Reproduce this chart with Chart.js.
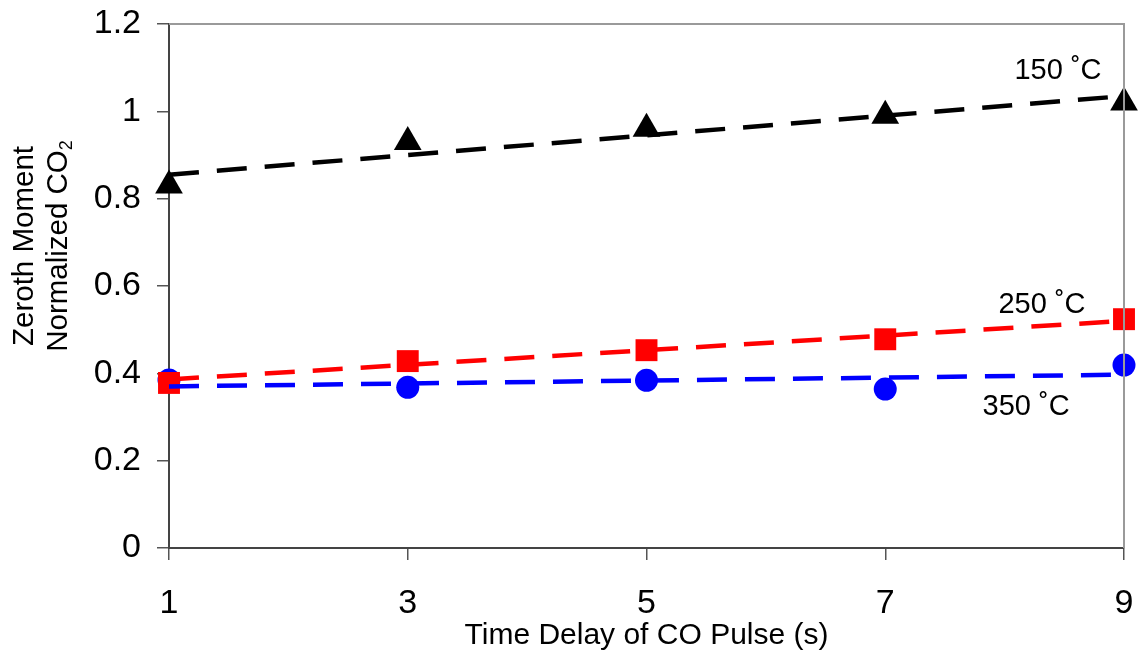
<!DOCTYPE html>
<html>
<head>
<meta charset="utf-8">
<script src="https://cdn.jsdelivr.net/npm/chart.js@4/dist/chart.umd.min.js"></script>
<style>
html,body{margin:0;padding:0;background:#fff;}
#wrap{width:1144px;height:655px;position:relative;}
</style>
</head>
<body>
<div id="wrap"><canvas id="c"></canvas></div>
<script>
// ---- data ----
const timeDelay = [1, 3, 5, 7, 9];
const co2_150 = [0.83, 0.93, 0.96, 0.99, 1.02];
const co2_250 = [0.378, 0.428, 0.453, 0.478, 0.524];
const co2_350 = [0.385, 0.368, 0.384, 0.364, 0.419];
const trendX = [1, 9];
const trend_150 = [0.855, 1.035];
const trend_250 = [0.386, 0.52];
const trend_350 = [0.37, 0.397];
const xTickValues = [1, 3, 5, 7, 9];
const yTickValues = [0, 0.2, 0.4, 0.6, 0.8, 1, 1.2];
const seriesLabels = ['150 \u02DAC', '250 \u02DAC', '350 \u02DAC'];

const FONT = '"Liberation Sans", Arial, Helvetica, sans-serif';

function pts(xs, ys) { return xs.map((x, i) => ({x: x, y: ys[i]})); }

const annotations = [
  {text: seriesLabels[0], x: 8.447, y: 1.092},
  {text: seriesLabels[1], x: 8.313, y: 0.556},
  {text: seriesLabels[2], x: 8.18, y: 0.323}
];

const extras = {
  id: 'extras',
  afterDraw(chart) {
    const ctx = chart.ctx;
    const a = chart.chartArea;
    const xs = chart.scales.x, ys = chart.scales.y;
    ctx.save();
    // top and right frame
    ctx.strokeStyle = '#9a9a9a';
    ctx.lineWidth = 2;
    ctx.beginPath();
    ctx.moveTo(a.left, a.top);
    ctx.lineTo(a.right, a.top);
    ctx.lineTo(a.right, a.bottom);
    ctx.stroke();
    // annotations
    ctx.fillStyle = '#000';
    ctx.font = '29px ' + FONT;
    ctx.textAlign = 'center';
    ctx.textBaseline = 'middle';
    annotations.forEach(an => {
      ctx.fillText(an.text, xs.getPixelForValue(an.x), ys.getPixelForValue(an.y));
    });
    // x title
    ctx.font = '30px ' + FONT;
    ctx.fillText('Time Delay of CO Pulse (s)', (a.left + a.right) / 2, 636);
    // y title (rotated, two lines)
    const cy = 246;
    ctx.save();
    ctx.translate(25, cy);
    ctx.rotate(-Math.PI / 2);
    ctx.font = '29.5px ' + FONT;
    ctx.fillText('Zeroth Moment', 0, 0);
    ctx.restore();
    ctx.save();
    ctx.translate(59, cy);
    ctx.rotate(-Math.PI / 2);
    const main = 'Normalized CO';
    ctx.font = '29.5px ' + FONT;
    const w1 = ctx.measureText(main).width;
    ctx.font = '18px ' + FONT;
    const w2 = ctx.measureText('2').width;
    const total = w1 + w2;
    ctx.textAlign = 'left';
    ctx.font = '29.5px ' + FONT;
    ctx.fillText(main, -total / 2, 0);
    ctx.font = '18px ' + FONT;
    ctx.fillText('2', -total / 2 + w1, 8);
    ctx.restore();
    ctx.restore();
  }
};

new Chart(document.getElementById('c'), {
  type: 'scatter',
  data: {
    datasets: [
      {type: 'line', data: pts(trendX, trend_150), borderColor: '#000', borderWidth: 4.5, borderDash: [30, 18], pointRadius: 0, fill: false, order: 1},
      {type: 'line', data: pts(trendX, trend_250), borderColor: '#ff0000', borderWidth: 4.5, borderDash: [30, 18], pointRadius: 0, fill: false, order: 1},
      {type: 'line', data: pts(trendX, trend_350), borderColor: '#0000ff', borderWidth: 4.5, borderDash: [30, 18], pointRadius: 0, fill: false, order: 1},
      {label: seriesLabels[1], data: pts(timeDelay, co2_250), pointStyle: 'rect', pointRadius: 15.5, pointHoverRadius: 15.5, backgroundColor: '#ff0000', borderColor: '#ff0000', borderWidth: 0, order: 2},
      {label: seriesLabels[2], data: pts(timeDelay, co2_350), pointStyle: 'circle', pointRadius: 11.5, pointHoverRadius: 11.5, backgroundColor: '#0000ff', borderColor: '#0000ff', borderWidth: 0, order: 3},
      {label: seriesLabels[0], data: pts(timeDelay, co2_150), pointStyle: 'triangle', pointRadius: 16, pointHoverRadius: 16, backgroundColor: '#000', borderColor: '#000', borderWidth: 0, order: 4}
    ]
  },
  options: {
    responsive: true,
    maintainAspectRatio: false,
    animation: false,
    clip: false,
    layout: {padding: {top: 24, right: 20, left: 0, bottom: 0}},
    plugins: {legend: {display: false}, tooltip: {enabled: false}},
    scales: {
      x: {
        type: 'linear', min: 1, max: 9,
        afterBuildTicks: s => { s.ticks = xTickValues.map(v => ({value: v})); },
        afterFit: s => { s.height = 107; s.paddingLeft = 0; s.paddingRight = 0; },
        grid: {drawOnChartArea: false, drawTicks: true, tickLength: 12, color: '#555', lineWidth: 1.5},
        border: {display: true, color: '#444', width: 2},
        ticks: {color: '#000', font: {family: FONT, size: 34}, padding: 23, maxRotation: 0, autoSkip: false}
      },
      y: {
        type: 'linear', min: 0, max: 1.2,
        afterBuildTicks: s => { s.ticks = yTickValues.map(v => ({value: v})); },
        afterFit: s => { s.width = 169; s.paddingTop = 0; s.paddingBottom = 0; },
        grid: {drawOnChartArea: false, drawTicks: true, tickLength: 12, color: '#555', lineWidth: 1.5},
        border: {display: true, color: '#444', width: 2},
        ticks: {color: '#000', font: {family: FONT, size: 34}, padding: 16, autoSkip: false,
          callback: v => String(Math.round(v * 10) / 10)}
      }
    }
  },
  plugins: [extras]
});
</script>
</body>
</html>
